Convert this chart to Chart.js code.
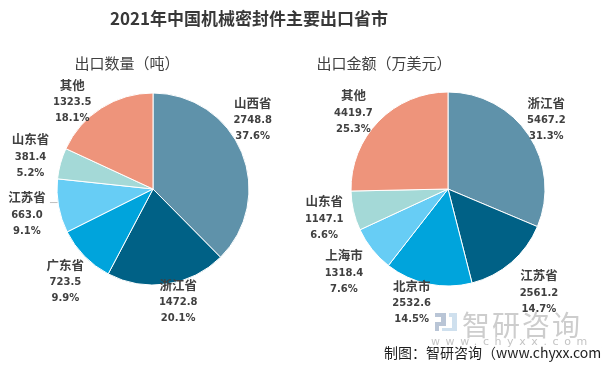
<!DOCTYPE html>
<html>
<head>
<meta charset="utf-8">
<script src="https://cdn.jsdelivr.net/npm/chart.js@4/dist/chart.umd.min.js"></script>
<style>
  body { margin: 0; background: #fff; }
  #wrap { position: relative; width: 602px; height: 368px; overflow: hidden; font-family: "Noto Sans CJK SC", sans-serif; }
  canvas { position: absolute; top: 0; }
  .txt { position: absolute; white-space: nowrap; line-height: 1; }
  #title { left: 0; width: 498px; top: 9px; text-align: center; font-size: 17px; font-weight: 700; color: #383838; }
  .sub { top: 55px; font-size: 15px; color: #404040; transform: translateX(-50%); }
  #wm1 { left: 462px; top: 310px; font-size: 28px; color: #cdcdcd; letter-spacing: 2px; }
  #wm2 { left: 431px; top: 336px; font-size: 11px; color: #c4c4c4; letter-spacing: 5.6px; font-family: "DejaVu Sans", sans-serif; }
  #src { left: 384px; top: 345px; font-size: 14px; color: #1e1e1e; }
  .logo { position: absolute; }
</style>
</head>
<body>
<div id="wrap">
  <canvas id="left" width="301" height="368" style="left:0"></canvas>
  <canvas id="right" width="301" height="368" style="left:301px"></canvas>
  <div id="title" class="txt">2021年中国机械密封件主要出口省市</div>
  <div class="txt sub" style="left:127px">出口数量（吨）</div>
  <div class="txt sub" style="left:384px">出口金额（万美元）</div>
  <div class="logo" style="left:435px;top:313px;width:11px;height:4px;background:#b9c5d6"></div>
  <div class="logo" style="left:441px;top:317px;width:5px;height:6px;background:#b9c5d6"></div>
  <div class="logo" style="left:435px;top:322px;width:11px;height:4px;background:#b9c5d6"></div>
  <div class="logo" style="left:435px;top:326px;width:4px;height:5px;background:#b9c5d6"></div>
  <div class="logo" style="left:449px;top:313px;width:8px;height:4px;background:#cfe0ee"></div>
  <div class="logo" style="left:452px;top:317px;width:5px;height:14px;background:#cfe0ee"></div>
  <div class="logo" style="left:442px;top:328px;width:10px;height:3px;background:#cfe0ee"></div>
  <div id="wm1" class="txt">智研咨询</div>
  <div id="wm2" class="txt">www.chyxx.com</div>
  <div id="src" class="txt">制图：智研咨询（www.chyxx.com）</div>
</div>
<script>
// 出口数量（吨）
const qtyLabels = ["山西省", "浙江省", "广东省", "江苏省", "山东省", "其他"];
const qtyValues = [2748.8, 1472.8, 723.5, 663.0, 381.4, 1323.5];

// 出口金额（万美元）
const amtLabels = ["浙江省", "江苏省", "北京市", "上海市", "山东省", "其他"];
const amtValues = [5467.2, 2561.2, 2532.6, 1318.4, 1147.1, 4419.7];

const colors = ["#5f92aa", "#006186", "#00a4dc", "#67cdf5", "#a4d9d7", "#ee947b"];

// label placement: distance from centre plus a small nudge per slice
const pieLabels = {
  id: "pieLabels",
  afterDatasetsDraw(chart, args, opts) {
    const ctx = chart.ctx;
    const data = chart.data.datasets[0].data;
    const total = data.reduce((a, b) => a + b, 0);
    chart.getDatasetMeta(0).data.forEach((arc, i) => {
      const p = arc.getProps(["x", "y", "startAngle", "endAngle", "outerRadius"], true);
      const mid = (p.startAngle + p.endAngle) / 2;
      const nd = opts.nudge[i] || [0, 0];
      const cx = p.x + Math.cos(mid) * opts.dist + nd[0];
      const cy = p.y + Math.sin(mid) * opts.dist + nd[1];
      ctx.save();
      if (opts.leader === i) {
        // short leader from the label to the slice edge
        const ex = p.x + Math.cos(mid) * p.outerRadius;
        ctx.strokeStyle = "#bfbfbf";
        ctx.lineWidth = 1;
        ctx.beginPath();
        ctx.moveTo(cx + 23, cy - 12.5);
        ctx.lineTo(ex - 1, cy - 12.5);
        ctx.stroke();
      }
      ctx.fillStyle = "#404040";
      ctx.textAlign = "center";
      ctx.textBaseline = "middle";
      ctx.font = "bold 12.5px 'Noto Sans CJK SC'";
      ctx.fillText(chart.data.labels[i], cx, cy - 17.5);
      ctx.font = "bold 10px 'DejaVu Sans'";
      ctx.fillText(data[i].toFixed(1), cx, cy);
      ctx.fillText((data[i] / total * 100).toFixed(1) + "%", cx, cy + 16);
      ctx.restore();
    });
  }
};

function makePie(id, labels, values, radius, padding, nudge, leader) {
  return new Chart(document.getElementById(id), {
    type: "pie",
    data: {
      labels: labels,
      datasets: [{
        data: values,
        backgroundColor: colors,
        borderColor: "#ffffff",
        borderWidth: 1
      }]
    },
    options: {
      responsive: false,
      animation: false,
      radius: radius,
      layout: { padding: padding },
      plugins: {
        legend: { display: false },
        tooltip: { enabled: false },
        pieLabels: { dist: 124, nudge: nudge, leader: leader }
      }
    },
    plugins: [pieLabels]
  });
}

makePie("left", qtyLabels, qtyValues, 96,
  { left: 57, right: 52, top: 93, bottom: 83 },
  [[-15, -21], [7, -9], [1, 7], [-4, 4], [-3, 1], [-14, 18]], 3);

makePie("right", amtLabels, amtValues, 97,
  { left: 50, right: 57, top: 92, bottom: 82 },
  [[-5, 0], [10, 10], [-11, -7], [-7, 7], [-3, 2], [-6, 11]], -1);
</script>
</body>
</html>
